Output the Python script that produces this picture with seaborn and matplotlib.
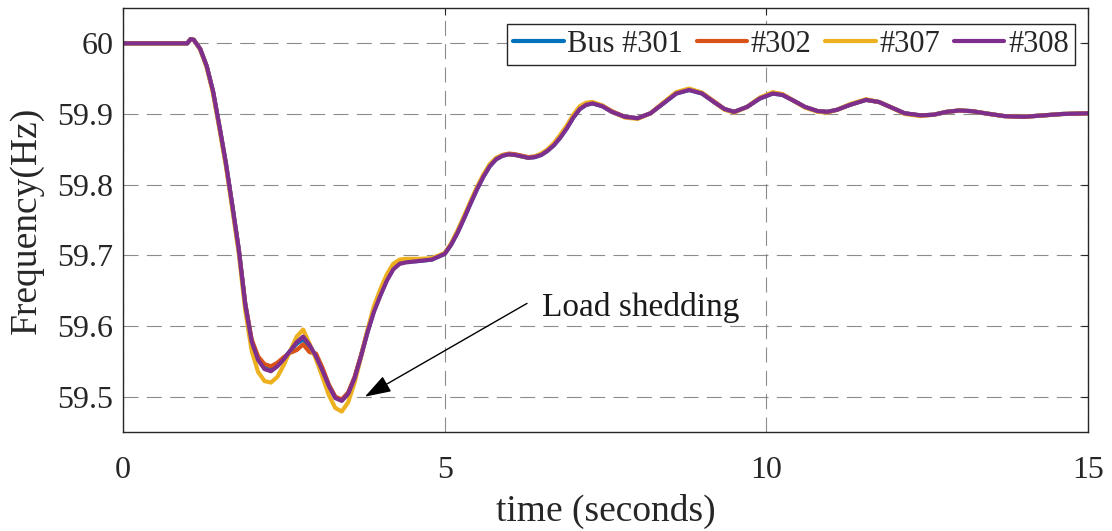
import numpy as np
import pandas as pd
import matplotlib
matplotlib.use("Agg")
import matplotlib.pyplot as plt
import seaborn as sns

# ---- data -------------------------------------------------------------
time_s = [
    0.0, 1.0, 1.05, 1.1, 1.2, 1.3, 1.4, 1.5, 1.6, 1.7,
    1.8, 1.9, 2.0, 2.1, 2.2, 2.3, 2.4, 2.5, 2.6, 2.7,
    2.8, 2.9, 3.0, 3.1, 3.2, 3.3, 3.4, 3.5, 3.6, 3.7,
    3.8, 3.9, 4.0, 4.1, 4.2, 4.3, 4.4, 4.6, 4.8, 5.0,
    5.1, 5.2, 5.3, 5.4, 5.5, 5.6, 5.7, 5.8, 5.9, 6.0,
    6.1, 6.2, 6.3, 6.4, 6.5, 6.6, 6.7, 6.8, 6.9, 7.0,
    7.1, 7.2, 7.3, 7.45, 7.6, 7.8, 8.0, 8.2, 8.4, 8.6,
    8.8, 9.0, 9.2, 9.35, 9.5, 9.7, 9.9, 10.1, 10.25, 10.4,
    10.6, 10.8, 10.95, 11.1, 11.3, 11.55, 11.75, 11.95, 12.15, 12.4,
    12.6, 12.8, 13.0, 13.2, 13.4, 13.7, 14.0, 14.3, 14.6, 15.0,
]

bus_301 = [
    60.000, 60.000, 60.006, 60.005, 59.992, 59.968, 59.932, 59.882, 59.830, 59.770,
    59.708, 59.632, 59.579, 59.553, 59.541, 59.539, 59.545, 59.554, 59.565, 59.575,
    59.581, 59.571, 59.557, 59.538, 59.516, 59.499, 59.495, 59.505, 59.527, 59.558,
    59.591, 59.621, 59.644, 59.665, 59.681, 59.689, 59.691, 59.692, 59.694, 59.702,
    59.715, 59.732, 59.752, 59.773, 59.793, 59.811, 59.826, 59.836, 59.841, 59.843,
    59.842, 59.840, 59.838, 59.839, 59.842, 59.848, 59.856, 59.867, 59.880, 59.895,
    59.907, 59.913, 59.915, 59.911, 59.903, 59.896, 59.894, 59.901, 59.915, 59.929,
    59.934, 59.929, 59.916, 59.907, 59.903, 59.910, 59.922, 59.929, 59.927, 59.920,
    59.910, 59.904, 59.903, 59.906, 59.913, 59.920, 59.917, 59.909, 59.901, 59.898,
    59.899, 59.903, 59.905, 59.904, 59.901, 59.897, 59.896, 59.898, 59.900, 59.901,
]

bus_302 = [
    60.000, 60.000, 60.006, 60.005, 59.992, 59.968, 59.931, 59.881, 59.829, 59.769,
    59.708, 59.632, 59.581, 59.557, 59.546, 59.543, 59.548, 59.556, 59.562, 59.566,
    59.574, 59.563, 59.561, 59.541, 59.517, 59.500, 59.496, 59.506, 59.528, 59.559,
    59.593, 59.624, 59.647, 59.668, 59.684, 59.691, 59.692, 59.693, 59.695, 59.703,
    59.716, 59.734, 59.754, 59.775, 59.795, 59.813, 59.828, 59.837, 59.842, 59.844,
    59.843, 59.841, 59.839, 59.840, 59.843, 59.849, 59.858, 59.869, 59.882, 59.897,
    59.909, 59.915, 59.916, 59.912, 59.904, 59.896, 59.894, 59.901, 59.916, 59.930,
    59.935, 59.930, 59.917, 59.907, 59.903, 59.910, 59.923, 59.930, 59.928, 59.920,
    59.910, 59.904, 59.903, 59.906, 59.913, 59.920, 59.917, 59.909, 59.901, 59.898,
    59.899, 59.903, 59.905, 59.904, 59.901, 59.897, 59.896, 59.898, 59.900, 59.901,
]

bus_307 = [
    60.000, 60.000, 60.006, 60.005, 59.991, 59.966, 59.929, 59.878, 59.826, 59.765,
    59.702, 59.622, 59.565, 59.535, 59.522, 59.520, 59.528, 59.545, 59.565, 59.585,
    59.595, 59.575, 59.553, 59.528, 59.502, 59.484, 59.479, 59.492, 59.520, 59.556,
    59.594, 59.628, 59.652, 59.673, 59.688, 59.694, 59.695, 59.695, 59.696, 59.703,
    59.717, 59.735, 59.755, 59.776, 59.796, 59.814, 59.829, 59.838, 59.842, 59.843,
    59.842, 59.840, 59.838, 59.840, 59.844, 59.850, 59.859, 59.871, 59.884, 59.899,
    59.911, 59.916, 59.917, 59.912, 59.903, 59.895, 59.893, 59.901, 59.916, 59.931,
    59.936, 59.930, 59.916, 59.906, 59.902, 59.910, 59.923, 59.931, 59.928, 59.920,
    59.909, 59.903, 59.902, 59.906, 59.914, 59.921, 59.917, 59.909, 59.900, 59.897,
    59.899, 59.903, 59.905, 59.904, 59.901, 59.897, 59.896, 59.898, 59.900, 59.901,
]

bus_308 = [
    60.000, 60.000, 60.006, 60.005, 59.992, 59.968, 59.932, 59.882, 59.830, 59.770,
    59.708, 59.630, 59.578, 59.552, 59.539, 59.536, 59.543, 59.553, 59.565, 59.577,
    59.585, 59.573, 59.557, 59.537, 59.515, 59.498, 59.494, 59.504, 59.526, 59.557,
    59.591, 59.620, 59.643, 59.664, 59.680, 59.688, 59.690, 59.692, 59.694, 59.702,
    59.715, 59.732, 59.752, 59.773, 59.793, 59.811, 59.826, 59.836, 59.841, 59.843,
    59.842, 59.840, 59.838, 59.839, 59.842, 59.848, 59.856, 59.867, 59.880, 59.895,
    59.907, 59.913, 59.915, 59.911, 59.903, 59.896, 59.894, 59.901, 59.915, 59.929,
    59.934, 59.929, 59.916, 59.907, 59.903, 59.910, 59.922, 59.929, 59.927, 59.920,
    59.910, 59.904, 59.903, 59.906, 59.913, 59.920, 59.917, 59.909, 59.901, 59.898,
    59.899, 59.903, 59.905, 59.904, 59.901, 59.897, 59.896, 59.898, 59.900, 59.901,
]

series_labels = ["Bus #301", "#302", "#307", "#308"]
series_values = [bus_301, bus_302, bus_307, bus_308]
series_colors = ["#0072BD", "#D95319", "#EDB120", "#7E2F8E"]

x_ticks = [0, 5, 10, 15]
y_ticks = [59.5, 59.6, 59.7, 59.8, 59.9, 60.0]
y_tick_labels = ["59.5", "59.6", "59.7", "59.8", "59.9", "60"]

# ---- long-form table ---------------------------------------------------
frames = [
    pd.DataFrame({"time": time_s, "freq": vals, "bus": name})
    for name, vals in zip(series_labels, series_values)
]
df = pd.concat(frames, ignore_index=True)

# ---- style -------------------------------------------------------------
sns.set_theme(style="white")
plt.rcParams["font.family"] = ["Liberation Serif", "DejaVu Serif"]
plt.rcParams["mathtext.fontset"] = "stix"

fig = plt.figure(figsize=(11.12, 5.31), dpi=100)
ax = fig.add_axes([123 / 1112, 1 - 432 / 531, 965 / 1112, 424 / 531])

sns.lineplot(
    data=df, x="time", y="freq", hue="bus",
    hue_order=series_labels,
    palette=dict(zip(series_labels, series_colors)),
    linewidth=3.0, estimator=None, errorbar=None, sort=False,
    ax=ax,
)

ax.set_xlim(0, 15)
ax.set_ylim(59.45, 60.05)
ax.set_xticks(x_ticks)
ax.set_xticklabels([str(v) for v in x_ticks])
ax.set_yticks(y_ticks)
ax.set_yticklabels(y_tick_labels)

# dashed grid
ax.grid(True, color="#808080", linewidth=0.8,
        linestyle=(0, (13.5, 7.5)), alpha=0.9)
ax.set_axisbelow(True)

for sp in ax.spines.values():
    sp.set_visible(True)
    sp.set_color("#262626")
    sp.set_linewidth(1.0)

ax.tick_params(axis="both", which="both", direction="in", length=5,
               width=0.8, colors="#262626", top=True, right=True,
               labelsize=23, labelcolor="#262626")
ax.tick_params(axis="x", pad=17)
ax.tick_params(axis="y", pad=7)

ax.set_xlabel("time (seconds)", fontsize=27, color="#262626")
ax.set_ylabel("Frequency(Hz)", fontsize=27, color="#262626")
ax.xaxis.set_label_coords(0.5, -0.145)
ax.yaxis.label.set_va("center")
ax.yaxis.set_label_coords(-0.0995, 0.5)

# legend across the top right
handles, labels = ax.get_legend_handles_labels()
if ax.get_legend() is not None:
    ax.get_legend().remove()
leg = ax.legend(
    handles, labels, ncol=4, loc="upper right",
    bbox_to_anchor=(1 - 13 / 965, 1 - 16 / 424), borderaxespad=0,
    fontsize=22, frameon=True, fancybox=False, framealpha=1,
    edgecolor="#262626", handlelength=1.65, handletextpad=0.12,
    columnspacing=0.45, borderpad=0.2,
)
leg.get_frame().set_linewidth(1.0)
for line in leg.get_lines():
    line.set_linewidth(3.0)

# load-shedding annotation
ax.annotate(
    "", xy=(3.76, 59.50), xytext=(6.28, 59.632),
    arrowprops=dict(arrowstyle="-|>,head_length=0.9,head_width=0.3",
                    color="black", lw=1.0, shrinkA=0, shrinkB=0,
                    mutation_scale=18),
)
ax.text(6.51, 59.614, "Load shedding", fontsize=24, color="#1a1a1a",
        ha="left", va="baseline")

fig.savefig("out.png", dpi=100)
